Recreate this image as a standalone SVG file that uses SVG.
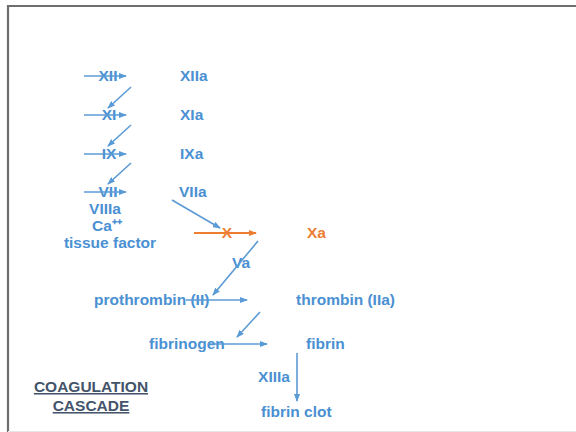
<svg xmlns="http://www.w3.org/2000/svg" width="576" height="432" viewBox="0 0 576 432">
<defs>
<marker id="ab" markerWidth="8" markerHeight="6" refX="7" refY="3" orient="auto" markerUnits="userSpaceOnUse"><path d="M0,0 L8,3 L0,6 Z" fill="#5b9bd5"/></marker>
<marker id="ao" markerWidth="8" markerHeight="6" refX="7" refY="3" orient="auto" markerUnits="userSpaceOnUse"><path d="M0,0 L8,3 L0,6 Z" fill="#ed7d31"/></marker>
</defs>
<style>
text{font-family:"Liberation Sans",Arial,sans-serif;font-weight:bold;font-size:15.5px;fill:#4a90d2}
.c{text-anchor:middle}
.o{fill:#ed7d31}
.t{fill:#44546a;text-decoration:underline;font-size:15.5px}
.l{stroke:#5b9bd5;stroke-width:1.6;fill:none;marker-end:url(#ab)}
.lo{stroke:#ed7d31;stroke-width:1.8;fill:none;marker-end:url(#ao)}
</style>
<rect width="576" height="432" fill="#fff"/>
<path d="M8,432 V6 H576" fill="none" stroke="#6e6e6e" stroke-width="2.2"/>
<line x1="8" y1="431.5" x2="576" y2="431.5" stroke="#e6e6e6" stroke-width="1"/>
<g id="n-XII"><text class="c" x="108" y="81">XII</text></g>
<g id="n-XIIa"><text x="180" y="81">XIIa</text></g>
<g id="n-XI"><text class="c" x="109" y="120">XI</text></g>
<g id="n-XIa"><text x="180" y="120">XIa</text></g>
<g id="n-IX"><text class="c" x="109" y="159">IX</text></g>
<g id="n-IXa"><text x="180" y="159">IXa</text></g>
<g id="n-VII"><text class="c" x="108" y="197">VII</text></g>
<g id="n-VIIa"><text x="179" y="197">VIIa</text></g>
<g id="n-cofactors"><text class="c" x="105" y="214">VIIIa</text><text class="c" x="107" y="231">Ca⁺⁺</text><text class="c" x="110" y="248">tissue factor</text></g>
<g id="n-X"><text class="c o" x="227" y="238">X</text></g>
<g id="n-Xa"><text class="o" x="307" y="238">Xa</text></g>
<g id="n-Va"><text class="c" x="241" y="268">Va</text></g>
<g id="n-prothrombin"><text x="94" y="305">prothrombin (II)</text></g>
<g id="n-thrombin"><text x="296" y="305">thrombin (IIa)</text></g>
<g id="n-fibrinogen"><text x="149" y="349">fibrinogen</text></g>
<g id="n-fibrin"><text x="306" y="349">fibrin</text></g>
<g id="n-XIIIa"><text class="c" x="274" y="382">XIIIa</text></g>
<g id="n-fibrinclot"><text x="261" y="417">fibrin clot</text></g>
<g id="n-title"><text class="c t" x="91" y="392">COAGULATION</text><text class="c t" x="91" y="411">CASCADE</text></g>
<g id="connectors">
<line class="l" x1="84" y1="76" x2="126" y2="76"/>
<line class="l" x1="84" y1="115" x2="126" y2="115"/>
<line class="l" x1="84" y1="154" x2="126" y2="154"/>
<line class="l" x1="84" y1="192" x2="126" y2="192"/>
<line class="l" x1="131" y1="87" x2="108" y2="108"/>
<line class="l" x1="131" y1="125" x2="108" y2="146"/>
<line class="l" x1="131" y1="163" x2="108" y2="184"/>
<line class="l" x1="172" y1="200" x2="220" y2="228"/>
<line class="lo" x1="194" y1="233" x2="256" y2="233"/>
<line class="l" x1="258" y1="241" x2="213" y2="295"/>
<line class="l" x1="186" y1="300" x2="247" y2="300"/>
<line class="l" x1="208" y1="344" x2="267" y2="344"/>
<line class="l" x1="260" y1="312" x2="237" y2="337"/>
<line class="l" x1="297" y1="353" x2="297" y2="401"/>
</g>
</svg>
